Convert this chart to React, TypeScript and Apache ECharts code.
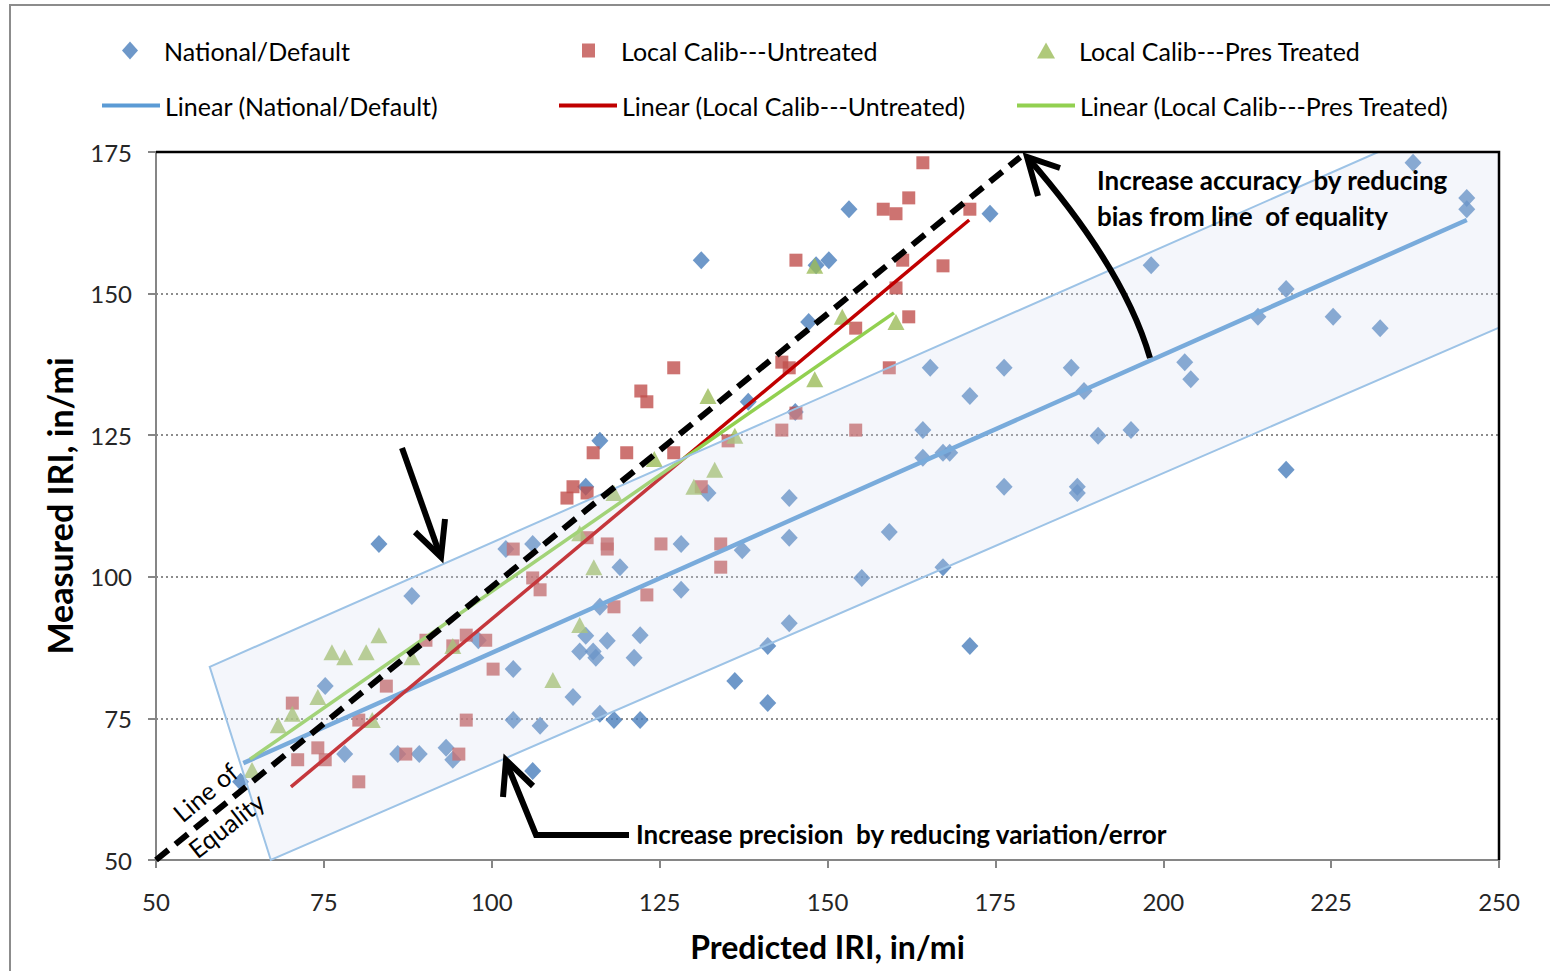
import React, { useEffect, useRef } from "react";
import * as echarts from "echarts";

const FONT = "Lato, 'Open Sans', sans-serif";

// Predicted IRI (x) vs Measured IRI (y), in/mi
const nationalDefault: [number, number][] = [
  [62.6, 63.8], [75.2, 80.7], [78.1, 68.7], [83.2, 105.8], [86.0, 68.7], [88.1, 96.6],
  [89.2, 68.7], [93.2, 69.8], [94.2, 67.7], [98.0, 88.8], [102.1, 104.9], [103.2, 83.7],
  [103.2, 74.7], [106.1, 105.8], [106.1, 65.7], [107.2, 73.7], [112.1, 78.8], [113.1, 86.8],
  [114.0, 89.6], [114.0, 115.9], [115.1, 86.8], [115.5, 85.7], [116.1, 124.0], [116.1, 75.8],
  [116.1, 94.7], [117.2, 88.7], [118.2, 74.7], [119.1, 101.7], [121.2, 85.7], [122.1, 89.7],
  [122.1, 74.7], [128.2, 105.8], [128.2, 97.7], [131.2, 155.9], [132.2, 114.8], [136.2, 81.6],
  [137.3, 104.7], [138.2, 130.9], [141.1, 87.8], [141.1, 77.7], [144.3, 113.9], [144.3, 106.9],
  [144.3, 91.8], [145.2, 129.1], [147.2, 145.0], [148.3, 155.0], [150.2, 155.9], [153.2, 164.9],
  [155.1, 99.8], [159.2, 107.9], [164.2, 125.9], [164.2, 121.0], [165.3, 136.9], [167.2, 121.9],
  [167.2, 101.7], [168.2, 121.9], [171.2, 131.9], [171.2, 87.8], [174.2, 164.1], [176.3, 136.9],
  [176.3, 115.9], [186.3, 136.9], [187.2, 115.9], [187.2, 114.8], [188.2, 132.8], [190.3, 124.9],
  [195.2, 125.9], [198.2, 155.0], [203.2, 137.9], [204.1, 134.9], [214.1, 145.9], [218.3, 150.8],
  [218.3, 118.9], [225.3, 145.9], [232.3, 143.9], [237.2, 173.1], [245.2, 166.9], [245.2, 164.9],
];

const localUntreated: [number, number][] = [
  [70.3, 77.7], [71.1, 67.7], [74.1, 69.8], [75.2, 67.7], [80.2, 74.7], [80.2, 63.8],
  [84.3, 80.7], [87.2, 68.7], [90.2, 88.8], [94.2, 87.8], [95.1, 68.7], [96.2, 89.7],
  [96.2, 74.7], [99.1, 88.8], [100.2, 83.7], [103.2, 104.9], [106.1, 99.8], [107.2, 97.7],
  [111.2, 113.9], [112.1, 115.9], [114.2, 114.8], [114.2, 106.9], [115.1, 121.9], [117.2, 105.8],
  [117.2, 104.9], [118.2, 94.7], [120.1, 121.9], [122.2, 132.8], [123.1, 130.9], [123.1, 96.8],
  [125.2, 105.8], [127.1, 136.9], [127.1, 121.9], [131.2, 115.9], [134.1, 105.8], [134.1, 101.7],
  [135.2, 124.0], [143.2, 125.9], [143.2, 137.9], [144.3, 136.9], [145.3, 155.9], [145.3, 128.9],
  [154.2, 143.9], [154.2, 125.9], [158.3, 164.9], [159.2, 136.9], [160.2, 164.1], [160.2, 151.0],
  [161.2, 155.9], [162.1, 145.9], [162.1, 166.9], [164.2, 173.1], [167.2, 154.9], [171.2, 164.9],
];

const localPresTreated: [number, number][] = [
  [64.3, 65.9], [68.2, 73.8], [70.3, 75.8], [74.1, 78.8], [76.2, 86.7], [78.1, 85.8],
  [81.3, 86.7], [83.2, 89.7], [82.2, 74.7], [88.1, 85.8], [94.2, 87.8], [109.1, 81.8],
  [113.1, 107.7], [113.1, 91.5], [115.2, 101.7], [118.2, 114.8], [124.2, 120.8], [130.1, 115.9],
  [132.2, 131.9], [133.2, 118.9], [136.2, 124.9], [148.1, 154.9], [148.1, 134.9], [152.2, 145.9],
  [160.2, 145.0],
];

// Linear trend lines (start, end)
const trendNational: [number, number][] = [[63.0, 67.1], [245.2, 163.0]];
const trendUntreated: [number, number][] = [[70.1, 62.9], [171.1, 163.0]];
const trendPresTreated: [number, number][] = [[64.0, 67.8], [159.9, 146.6]];

// Hand-drawn line of equality
const lineOfEquality: [number, number][] = [[50, 50], [178.7, 174.1]];

// Precision band polygon (corners)
const bandX = [58.0, 232.0, 250, 250, 67.1];
const bandY = [84.1, 175, 175, 144.0, 50];

const xMin = 50, xMax = 250, xStep = 25;
const yMin = 50, yMax = 175, yStep = 25;

const seriesNames = [
  "National/Default",
  "Local Calib---Untreated",
  "Local Calib---Pres Treated",
  "Linear (National/Default)",
  "Linear (Local Calib---Untreated)",
  "Linear (Local Calib---Pres Treated)",
];

export default function App() {
  const ref = useRef<HTMLDivElement>(null);
  useEffect(() => {
    if (!ref.current) return;
    const chart = echarts.init(ref.current, null, { renderer: "svg" });
    const mkLegend = (name: string, icon: string, left: number, top: number, w: number, h: number, pad: number) => ({
      data: [{ name, icon }],
      left,
      top,
      itemWidth: w,
      itemHeight: h,
      itemGap: 0,
      padding: 0,
      textStyle: { fontFamily: FONT, fontSize: 25, color: "#000", padding: [0, 0, 0, pad] },
      selectedMode: false,
    });
    const thick = 6;
    const boldText = (text: string, x: number, y: number) => ({
      type: "text",
      z: 100,
      x,
      y,
      style: { text, fontFamily: FONT, fontSize: 26, fontWeight: "bold", fill: "#000", textVerticalAlign: "middle" },
    });
    const option: any = {
      animation: false,
      backgroundColor: "#fff",
      grid: { left: 156, top: 152, width: 1343, height: 708, show: false },
      legend: [
        mkLegend(seriesNames[0], "diamond", 122, 38, 16, 18, 21),
        mkLegend(seriesNames[1], "rect", 582, 38, 13, 14, 21),
        mkLegend(seriesNames[2], "triangle", 1037, 38, 18, 16, 19),
        mkLegend(seriesNames[3], "rect", 102, 93, 58, 4, 0),
        mkLegend(seriesNames[4], "rect", 559, 93, 58, 4, 0),
        mkLegend(seriesNames[5], "rect", 1017, 93, 58, 4, 0),
      ],
      xAxis: {
        type: "value",
        min: xMin,
        max: xMax,
        interval: xStep,
        name: "Predicted IRI, in/mi",
        nameLocation: "middle",
        nameGap: 70,
        nameTextStyle: { fontFamily: FONT, fontSize: 32, fontWeight: "bold", color: "#000" },
        axisLine: { show: true, lineStyle: { color: "#868686", width: 2 } },
        axisTick: { show: true, length: 8, lineStyle: { color: "#868686", width: 2 } },
        axisLabel: { margin: 29, fontFamily: FONT, fontSize: 24, color: "#262626" },
        splitLine: { show: false },
      },
      yAxis: {
        type: "value",
        min: yMin,
        max: yMax,
        interval: yStep,
        name: "Measured IRI, in/mi",
        nameLocation: "middle",
        nameGap: 80,
        nameTextStyle: { fontFamily: FONT, fontSize: 34, fontWeight: "bold", color: "#000" },
        axisLine: { show: true, lineStyle: { color: "#868686", width: 2 } },
        axisTick: { show: true, length: 8, lineStyle: { color: "#868686", width: 2 } },
        axisLabel: { margin: 24, fontFamily: FONT, fontSize: 24, color: "#262626" },
        splitLine: { show: true, lineStyle: { color: "#8c8c8c", width: 2, type: [2, 3] } },
      },
      series: [
        {
          name: seriesNames[0],
          type: "scatter",
          symbol: "diamond",
          symbolSize: [17, 18],
          itemStyle: { color: "#4a7ebb" },
          data: nationalDefault,
          z: 2,
        },
        {
          name: seriesNames[1],
          type: "scatter",
          symbol: "rect",
          symbolSize: 13,
          itemStyle: { color: "#c0504d" },
          data: localUntreated,
          z: 2,
        },
        {
          name: seriesNames[2],
          type: "scatter",
          symbol: "triangle",
          symbolSize: [17, 16],
          itemStyle: { color: "#9bbb59" },
          data: localPresTreated,
          z: 2,
        },
        {
          name: seriesNames[3],
          type: "line",
          symbol: "none",
          lineStyle: { color: "#5b9bd5", width: 4.5 },
          itemStyle: { color: "#5b9bd5" },
          data: trendNational,
          z: 3,
        },
        {
          name: seriesNames[4],
          type: "line",
          symbol: "none",
          lineStyle: { color: "#c00000", width: 3.5 },
          itemStyle: { color: "#c00000" },
          data: trendUntreated,
          z: 3,
        },
        {
          name: seriesNames[5],
          type: "line",
          symbol: "none",
          lineStyle: { color: "#92d050", width: 3.5 },
          itemStyle: { color: "#92d050" },
          data: trendPresTreated,
          z: 3,
        },
        {
          name: "Precision band",
          type: "custom",
          silent: true,
          z: 5,
          clip: false,
          data: [0],
          renderItem: (_params: any, api: any) => {
            const points = bandX.map((x, i) => api.coord([x, bandY[i]]));
            return {
              type: "polygon",
              shape: { points },
              style: { fill: "rgba(212,220,239,0.25)", stroke: "#9dc3e6", lineWidth: 2 },
            };
          },
        },
        {
          name: "Line of Equality",
          type: "line",
          symbol: "none",
          silent: true,
          clip: false,
          lineStyle: { color: "#000", width: 6, type: [16, 9] },
          data: lineOfEquality,
          z: 6,
        },
      ],
      graphic: [
        { type: "rect", z: 100, shape: { x: 10, y: 5, width: 1600, height: 1000 }, style: { fill: "none", stroke: "#8c8c8c", lineWidth: 2 } },
        // plot area top and right border
        { type: "polyline", z: 100, shape: { points: [[156, 152], [1499, 152], [1499, 860]] }, style: { stroke: "#000", lineWidth: 2.5, fill: "none" } },
        // curved accuracy arrow
        { type: "bezierCurve", z: 100, shape: { x1: 1150, y1: 358, x2: 1028, y2: 158, cpx1: 1124, cpy1: 268 }, style: { stroke: "#000", lineWidth: thick, fill: "none" } },
        { type: "polyline", z: 100, shape: { points: [[1038, 196], [1027, 157], [1060, 168]] }, style: { stroke: "#000", lineWidth: thick, fill: "none" } },
        boldText("Increase accuracy  by reducing", 1097, 180),
        boldText("bias from line  of equality", 1097, 216),
        // down arrow
        { type: "line", z: 100, shape: { x1: 402, y1: 448, x2: 440, y2: 555 }, style: { stroke: "#000", lineWidth: thick } },
        { type: "polyline", z: 100, shape: { points: [[415, 532], [441, 557], [445, 519]] }, style: { stroke: "#000", lineWidth: thick, fill: "none" } },
        // precision arrow
        { type: "polyline", z: 100, shape: { points: [[629, 835], [536, 835], [507, 764]] }, style: { stroke: "#000", lineWidth: thick, fill: "none" } },
        { type: "polyline", z: 100, shape: { points: [[503, 797], [506, 760], [533, 786]] }, style: { stroke: "#000", lineWidth: thick, fill: "none" } },
        boldText("Increase precision  by reducing variation/error", 636, 834),
        // Line of Equality label
        { type: "text", z: 100, x: 205, y: 792, rotation: 0.7, style: { text: "Line of", fontFamily: FONT, fontSize: 25, fill: "#000", textAlign: "center", textVerticalAlign: "middle" } },
        { type: "text", z: 100, x: 226, y: 825, rotation: 0.66, style: { text: "Equality", fontFamily: FONT, fontSize: 25, fill: "#000", textAlign: "center", textVerticalAlign: "middle" } },
      ],
    };
    chart.setOption(option);
    return () => chart.dispose();
  }, []);
  return <div ref={ref} style={{ position: "absolute", left: 0, top: 0, width: 1550, height: 971 }} />;
}
